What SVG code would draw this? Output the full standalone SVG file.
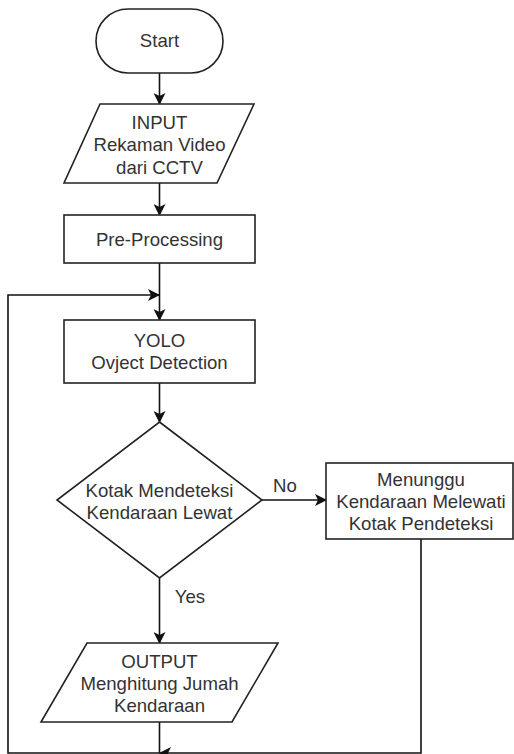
<svg xmlns="http://www.w3.org/2000/svg" width="514" height="754" viewBox="0 0 514 754">
<style>
.shape{fill:#fff;stroke:#222;stroke-width:1.6}
.edge{fill:none;stroke:#111;stroke-width:1.6}
text{font-family:"Liberation Sans",Arial,sans-serif;font-size:18.6px;fill:#333;text-anchor:middle}
</style>
<defs>
<marker id="arr" viewBox="0 0 12 12" refX="11" refY="6" markerWidth="12" markerHeight="12" markerUnits="userSpaceOnUse" orient="auto">
<path d="M0,0 L12,6 L0,12 L3,6 Z" fill="#111"/>
</marker>
</defs>
<rect width="514" height="754" fill="#fff"/>
<g id="connectors">
<line class="edge" x1="159.5" y1="73" x2="159.5" y2="104" marker-end="url(#arr)"/>
<line class="edge" x1="159.5" y1="183" x2="159.5" y2="215" marker-end="url(#arr)"/>
<line class="edge" x1="159.5" y1="263" x2="159.5" y2="320" marker-end="url(#arr)"/>
<polyline class="edge" points="159.5,722 159.5,753 8,753 8,295 159,295" marker-end="url(#arr)"/>
<line class="edge" x1="159.5" y1="383" x2="159.5" y2="422" marker-end="url(#arr)"/>
<line class="edge" x1="262" y1="500" x2="326" y2="500" marker-end="url(#arr)"/>
<line class="edge" x1="159.5" y1="578" x2="159.5" y2="643" marker-end="url(#arr)"/>
<polyline class="edge" points="421,539 421,753 160,753" marker-end="url(#arr)"/>
<text x="285" y="492">No</text>
<text x="190" y="603">Yes</text>
</g>
<g id="start">
<rect class="shape" x="96" y="9" width="127" height="64" rx="32" ry="32"/>
<text x="159.5" y="47">Start</text>
</g>
<g id="input">
<polygon class="shape" points="100,104 254,104 217,183 64,183"/>
<text x="159.5" y="129">INPUT</text>
<text x="159.5" y="151">Rekaman Video</text>
<text x="159.5" y="174">dari CCTV</text>
</g>
<g id="preprocessing">
<rect class="shape" x="64" y="215" width="191" height="48"/>
<text x="159.5" y="246">Pre-Processing</text>
</g>
<g id="yolo">
<rect class="shape" x="64" y="320" width="191" height="63"/>
<text x="159.5" y="347">YOLO</text>
<text x="159.5" y="369">Ovject Detection</text>
</g>
<g id="decision">
<polygon class="shape" points="159.5,422 262,500 159.5,578 57,500"/>
<text x="159.5" y="497">Kotak Mendeteksi</text>
<text x="159.5" y="519">Kendaraan Lewat</text>
</g>
<g id="menunggu">
<rect class="shape" x="326" y="463" width="187" height="76"/>
<text x="421" y="486">Menunggu</text>
<text x="421" y="508">Kendaraan Melewati</text>
<text x="421" y="530">Kotak Pendeteksi</text>
</g>
<g id="output">
<polygon class="shape" points="87,643 278,643 232,722 41,722"/>
<text x="159.5" y="668">OUTPUT</text>
<text x="159.5" y="690">Menghitung Jumah</text>
<text x="159.5" y="712">Kendaraan</text>
</g>
</svg>
